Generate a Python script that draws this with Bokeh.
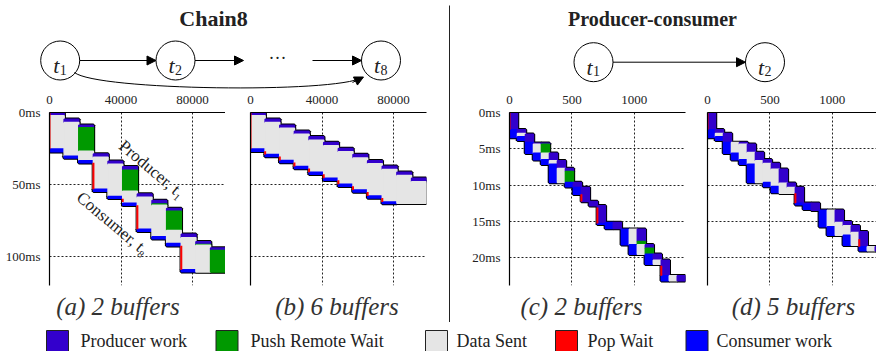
from bokeh.plotting import figure
from bokeh.layouts import row, column
from bokeh.models import Range1d, FixedTicker, PrintfTickFormatter, ColumnDataSource, Arrow, NormalHead
from bokeh.transform import dodge
from bokeh.core.properties import value
from bokeh.embed import file_html
from bokeh.resources import INLINE

# ------------------------------------------------------------------ data
# Chain8: one column per 8192-byte chunk, times in ms
CHAIN_CHUNK = 8192
a_prod_start = [0.0, 4.6, 8.8, 28.7, 33.8, 37.7, 56.5, 61.1, 66.6, 84.5, 89.6, 94.0]
a_prod_end   = [2.3, 6.9, 10.6, 31.0, 35.9, 40.0, 58.8, 63.4, 68.5, 86.8, 91.6, 95.8]
a_push_end   = [2.3, 6.9, 26.8, 31.0, 35.9, 54.6, 58.8, 64.3, 81.9, 86.8, 92.1, 110.6]
a_cons_start = [25.4, 30.3, 33.5, 53.2, 58.3, 62.9, 81.0, 86.1, 90.9, 109.0, 110.6, 110.6]
a_cons_end   = [27.3, 31.5, 34.9, 54.6, 59.5, 64.3, 82.4, 87.5, 92.4, 110.4, 110.6, 110.6]
a_pop_chunk  = [0, 3, 5, 6, 9]
a_pop_start  = [0.0, 34.9, 59.8, 64.3, 92.4]
a_pop_end    = [25.4, 53.2, 62.1, 81.0, 109.0]

b_prod_start = [0.0, 4.6, 8.8, 13.0, 16.9, 20.8, 25.0, 29.1, 33.5, 37.2, 41.4, 45.6]
b_prod_end   = [2.3, 6.9, 10.9, 15.0, 19.2, 23.1, 27.3, 31.5, 35.6, 39.6, 43.7, 48.1]
b_push_end   = [2.3, 6.9, 10.9, 15.0, 19.2, 23.1, 27.3, 31.5, 35.6, 39.6, 43.7, 48.1]
b_cons_start = [25.4, 29.1, 33.3, 37.5, 41.4, 45.6, 49.8, 53.7, 57.9, 62.1, 63.0, 63.0]
b_cons_end   = [26.8, 30.5, 34.7, 38.9, 42.8, 47.0, 51.2, 55.1, 59.3, 63.2, 63.0, 63.0]
b_pop_chunk  = [0, 1, 2, 3, 4, 5, 6, 7, 8, 9]
b_pop_start  = [0.0, 26.8, 30.5, 34.7, 38.9, 42.8, 47.0, 51.2, 55.1, 59.3]
b_pop_end    = [25.4, 29.1, 33.3, 37.5, 41.4, 45.6, 49.8, 53.7, 57.9, 62.1]

# Producer-consumer: one column per 64-unit chunk, times in ms
PC_CHUNK = 64
c_prod_start = [0.0, 2.39, 2.99, 4.23, 4.23, 5.61, 6.67, 7.72, 9.66, 10.34, 12.28, 12.87, 15.17, 15.17, 16.10, 16.10, 16.10, 18.25, 19.54, 20.37, 22.53, 22.53]
c_prod_end   = [2.39, 2.90, 4.14, 4.37, 4.37, 6.67, 7.72, 8.14, 10.34, 12.28, 12.87, 15.31, 15.17, 16.00, 16.10, 16.10, 17.80, 18.71, 20.37, 22.53, 22.53, 23.22]
c_push_end   = [2.39, 2.90, 4.14, 4.37, 5.61, 6.67, 7.72, 9.66, 10.34, 12.28, 12.87, 15.31, 15.17, 16.00, 16.10, 16.10, 18.25, 19.54, 20.37, 22.53, 22.53, 23.22]
c_cons_start = [2.39, 3.36, 4.14, 5.61, 6.53, 7.13, 9.66, 9.66, 10.34, 12.28, 12.87, 15.31, 15.17, 16.00, 16.10, 18.25, 19.54, 19.54, 20.92, 22.53, 23.22, 23.22]
c_cons_end   = [3.45, 3.82, 5.61, 6.53, 7.13, 9.66, 9.66, 10.25, 11.26, 12.28, 12.87, 15.40, 16.00, 16.00, 18.25, 19.54, 19.54, 20.92, 20.92, 23.22, 23.22, 23.22]
c_pop_chunk  = [0, 9, 11, 19]
c_pop_start  = [0.0, 11.26, 13.10, 21.15]
c_pop_end    = [2.39, 12.28, 15.31, 22.53]

d_prod_start = [0.0, 2.39, 2.90, 4.14, 4.14, 4.37, 5.52, 6.53, 7.03, 7.82, 9.75, 10.34, 12.51, 12.51, 13.47, 13.47, 13.47, 15.08, 15.63, 16.46, 18.53, 18.53]
d_prod_end   = [2.39, 2.90, 4.14, 4.14, 4.37, 5.52, 6.67, 7.03, 7.82, 9.75, 10.34, 12.51, 12.64, 13.47, 13.47, 13.47, 15.17, 15.63, 16.55, 18.53, 18.53, 19.08]
d_push_end   = [2.39, 2.90, 4.14, 4.14, 4.37, 5.52, 6.67, 7.03, 7.82, 9.75, 10.34, 12.51, 12.64, 13.47, 13.47, 13.47, 15.17, 15.63, 16.55, 18.53, 18.53, 19.08]
d_cons_start = [2.39, 3.36, 4.14, 5.61, 6.53, 7.13, 9.66, 9.66, 10.21, 11.13, 11.13, 12.51, 12.64, 13.47, 13.47, 15.77, 16.92, 16.92, 18.30, 18.53, 19.08, 19.08]
d_cons_end   = [3.45, 3.82, 5.61, 6.53, 7.13, 9.66, 9.66, 10.21, 11.03, 11.13, 11.13, 12.74, 13.33, 13.47, 15.77, 16.92, 16.92, 18.30, 18.30, 19.08, 19.08, 19.08]
d_pop_chunk  = [0, 11, 19]
d_pop_start  = [0.0, 11.13, 17.47]
d_pop_end    = [2.39, 12.51, 18.53]

chain_xticks = [0, 40000, 80000]
chain_yticks = [0, 50, 100]
pc_xticks = [0, 500, 1000]
pc_yticks = [0, 5, 10, 15, 20]

captions_left = ["(a) 2 buffers", "(b) 6 buffers"]
captions_right = ["(c) 2 buffers", "(d) 5 buffers"]
legend_labels = ["Producer work", "Push Remote Wait", "Data Sent", "Pop Wait", "Consumer work"]

# ------------------------------------------------------------------ style
PROD, PUSH, SENT, CONS, POP = "#3300cc", "#009900", "#e5e5e5", "#0000ff", "#ff0000"
legend_colors = [PROD, PUSH, SENT, POP, CONS]
SERIF = "Liberation Serif, DejaVu Serif, serif"
INK = "#222222"


def block_source(chunk, ps, pe, pw, cs, ce):
    d = dict(left=[], right=[], top=[], bottom=[], color=[])
    for i in range(len(ps)):
        for t0, t1, c in ((ps[i], pe[i], PROD), (pe[i], pw[i], PUSH),
                          (pw[i], cs[i], SENT), (cs[i], ce[i], CONS)):
            if t1 > t0:
                d["left"].append(i * chunk)
                d["right"].append((i + 1) * chunk)
                d["top"].append(t0)
                d["bottom"].append(t1)
                d["color"].append(c)
    return ColumnDataSource(d)


def pop_source(chunk, idx, t0, t1):
    return ColumnDataSource(dict(x=[i * chunk for i in idx], y0=t0, y1=t1))


def panel(src, pops, xmax, ymax, xticks, yticks, show_y, fw, bl, br, dx, dy):
    p = figure(frame_width=fw, frame_height=173,
               x_range=Range1d(0, xmax), y_range=Range1d(ymax, 0),
               x_axis_location="above", toolbar_location=None, output_backend="svg",
               min_border_left=bl, min_border_right=br, min_border_top=19, min_border_bottom=3,
               outline_line_color=None)
    for ax in (p.xaxis[0], p.yaxis[0]):
        ax.axis_line_color = "black"
        ax.axis_line_width = 1.2
        ax.major_tick_line_color = None
        ax.minor_tick_line_color = None
        ax.major_label_text_font = SERIF
        ax.major_label_text_font_size = "13px"
        ax.major_label_text_color = INK
        ax.major_label_standoff = 3
    p.xaxis.ticker = FixedTicker(ticks=xticks)
    p.xgrid.ticker = FixedTicker(ticks=xticks)
    if show_y:
        p.yaxis.ticker = FixedTicker(ticks=yticks)
        p.yaxis.formatter = PrintfTickFormatter(format="%dms")
    else:
        p.yaxis.ticker = FixedTicker(ticks=[])
    p.ygrid.ticker = FixedTicker(ticks=yticks)
    p.grid.grid_line_color = INK
    p.grid.grid_line_dash = "2 2"
    p.grid.grid_line_width = 1
    # shadow, union outline, fills, pop waits
    p.quad(left=dodge("left", dx), right=dodge("right", dx), top=dodge("top", dy),
           bottom=dodge("bottom", dy), source=src, fill_color="#8a8a8a", fill_alpha=0.6,
           line_color=None)
    p.quad(left="left", right="right", top="top", bottom="bottom", source=src,
           fill_color=None, line_color="black", line_width=3.5)
    p.quad(left="left", right="right", top="top", bottom="bottom", source=src,
           fill_color="color", line_color="color", line_width=1.5)
    p.segment(x0="x", x1="x", y0="y0", y1="y1", source=pops, line_color=POP, line_width=2)
    return p


def blank(w, h):
    p = figure(width=w, height=h, x_range=Range1d(0, w), y_range=Range1d(h, 0),
               x_axis_type=None, y_axis_type=None, toolbar_location=None,
               output_backend="svg", min_border=0, outline_line_color=None)
    p.grid.visible = False
    return p


def node(p, cx, cy, idx):
    p.scatter([cx], [cy], size=39, marker="circle", fill_color="white",
              line_color="black", line_width=1)
    p.text([cx - 4], [cy + 5], text=["t"], text_font=value(SERIF), text_font_style="italic",
           text_font_size="22px", text_align="center", text_baseline="alphabetic",
           text_color=INK)
    p.text([cx - 0.5], [cy + 9], text=[idx], text_font=value(SERIF),
           text_font_size="14px", text_align="left", text_baseline="alphabetic",
           text_color=INK)


def arrow(p, x0, y0, x1, y1):
    p.add_layout(Arrow(end=NormalHead(size=9, fill_color="black", line_color="black"),
                       x_start=x0, y_start=y0, x_end=x1, y_end=y1,
                       line_color="black", line_width=1))


# ------------------------------------------------------------------ header left
hl = blank(448, 92)
hl.text([213], [18], text=["Chain8"], text_font=value(SERIF), text_font_style="bold",
        text_font_size="22px", text_align="center", text_baseline="middle", text_color=INK)
node(hl, 59.7, 60, "1")
node(hl, 175, 60, "2")
node(hl, 380.5, 60, "8")
arrow(hl, 79.2, 60, 155.5, 60)
arrow(hl, 194.5, 60, 243, 60)
arrow(hl, 312, 60, 361, 60)
hl.text([277], [57], text=["\u00b7\u00b7\u00b7"], text_font=value(SERIF), text_font_size="18px",
        text_align="center", text_baseline="middle", text_color=INK)
hl.bezier(x0=[74], y0=[72], x1=[362], y1=[77], cx0=[96], cy0=[90], cx1=[334], cy1=[93],
          line_color="black", line_width=1)
arrow(hl, 352, 82, 363, 76.5)

# ------------------------------------------------------------------ header right
hr = blank(426, 92)
hr.text([202], [18], text=["Producer-consumer"], text_font=value(SERIF), text_font_style="bold",
        text_font_size="20px", text_align="center", text_baseline="middle", text_color=INK)
node(hr, 143, 61.7, "1")
node(hr, 314.5, 61.7, "2")
arrow(hr, 162.5, 61.7, 295, 61.7)

# ------------------------------------------------------------------ panels
pa = panel(block_source(CHAIN_CHUNK, a_prod_start, a_prod_end, a_push_end, a_cons_start, a_cons_end),
           pop_source(CHAIN_CHUNK, a_pop_chunk, a_pop_start, a_pop_end),
           98460, 120, chain_xticks, chain_yticks, True, 176, 49, 0, 840, 1.0)
pa.text([57300, 35400], [39.4, 77.0], text=["Producer, t\u2081", "Consumer, t\u2088"],
        angle=-0.70, text_font=value(SERIF), text_font_size="17px", text_align="center",
        text_baseline="middle", text_color=INK)
pb = panel(block_source(CHAIN_CHUNK, b_prod_start, b_prod_end, b_push_end, b_cons_start, b_cons_end),
           pop_source(CHAIN_CHUNK, b_pop_chunk, b_pop_start, b_pop_end),
           98460, 120, chain_xticks, chain_yticks, False, 176, 25, 22, 840, 1.0)
pc = panel(block_source(PC_CHUNK, c_prod_start, c_prod_end, c_push_end, c_cons_start, c_cons_end),
           pop_source(PC_CHUNK, c_pop_chunk, c_pop_start, c_pop_end),
           1410, 23.86, pc_xticks, pc_yticks, True, 176, 59, 11, 12, 0.2)
pd_ = panel(block_source(PC_CHUNK, d_prod_start, d_prod_end, d_push_end, d_cons_start, d_cons_end),
            pop_source(PC_CHUNK, d_pop_chunk, d_pop_start, d_pop_end),
            1354, 23.86, pc_xticks, pc_yticks, False, 169, 11, 0, 12, 0.2)

# ------------------------------------------------------------------ captions
def caption_fig(w, xs, labels):
    p = blank(w, 35)
    p.text(xs, [18] * len(xs), text=labels, text_font=value(SERIF), text_font_style="italic",
           text_font_size="25px", text_align="center", text_baseline="middle",
           text_color="#333333")
    return p

cl = caption_fig(448, [117.5, 336.5], captions_left)
cr = caption_fig(426, [131, 343], captions_right)

# ------------------------------------------------------------------ separator
sep = blank(2, 322)
sep.segment(x0=[1], x1=[1], y0=[5], y1=[322], line_color=INK, line_width=1)

# ------------------------------------------------------------------ legend
lg = blank(876, 29)
sq_x = [57, 226.5, 436, 566, 696.5]
lab_x = [80, 250, 456, 587, 716]
lg.rect(sq_x, [17.5] * 5, width=22, height=21, fill_color=legend_colors, line_color=INK,
        line_width=1)
lg.text(lab_x, [17] * 5, text=legend_labels, text_font=value(SERIF), text_font_size="18px",
        text_align="left", text_baseline="middle", text_color=INK)

left = column(hl, row(pa, pb), cl)
right = column(hr, row(pc, pd_), cr)
layout = column(row(left, sep, right), lg)

open("out.html", "w").write(file_html(layout, INLINE))
